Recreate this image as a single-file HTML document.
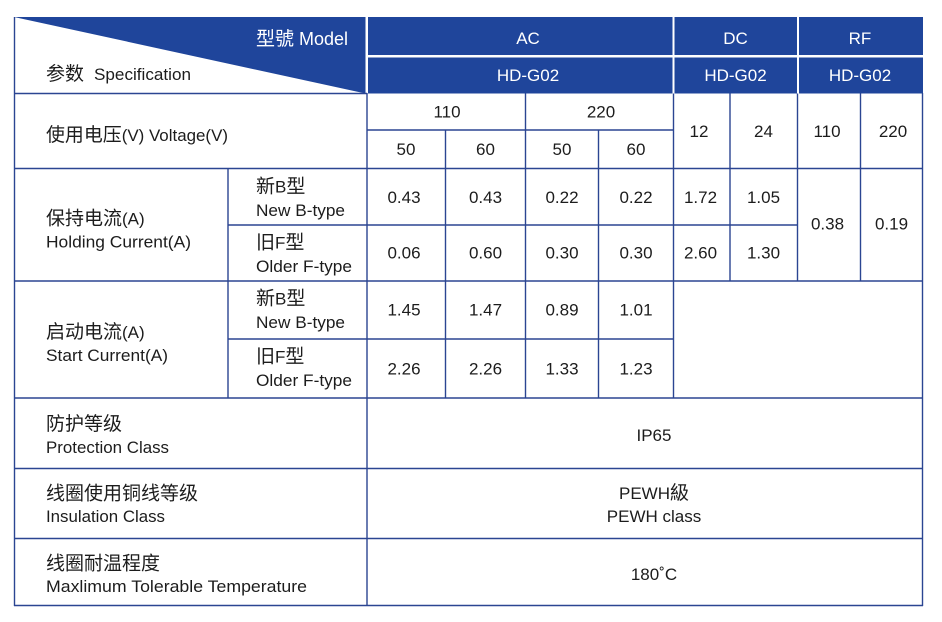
<!DOCTYPE html>
<html>
<head>
<meta charset="utf-8">
<style>
  html,body{margin:0;padding:0;background:#fff;}
  svg{display:block;}
  text{font-family:"Liberation Sans","Noto Sans CJK SC",sans-serif;font-size:17px;fill:#1c1c1c;}
  .c{font-family:"Noto Sans CJK SC","Liberation Sans",sans-serif;font-size:19px;}
  .w{fill:#ffffff;}
  .m{text-anchor:middle;}
</style>
</head>
<body>
<svg width="942" height="622" viewBox="0 0 942 622" xmlns="http://www.w3.org/2000/svg">
  <rect x="0" y="0" width="942" height="622" fill="#ffffff"/>

  <!-- header blue -->
  <polygon points="14,17 365.5,17 365.5,93.5" fill="#1f459b"/>
  <rect x="368" y="17" width="304.5" height="38" fill="#1f459b"/>
  <rect x="368" y="57.5" width="304.5" height="36" fill="#1f459b"/>
  <rect x="674.5" y="17" width="122.5" height="38" fill="#1f459b"/>
  <rect x="674.5" y="57.5" width="122.5" height="36" fill="#1f459b"/>
  <rect x="799" y="17" width="124" height="38" fill="#1f459b"/>
  <rect x="799" y="57.5" width="124" height="36" fill="#1f459b"/>

  <!-- grid lines -->
  <g stroke="#2b4592" stroke-width="1.4" fill="none">
    <!-- outer verticals -->
    <line x1="14.5" y1="17" x2="14.5" y2="606"/>
    <line x1="922.5" y1="93" x2="922.5" y2="606"/>
    <line x1="367" y1="93" x2="367" y2="606"/>
    <!-- header bottom of left cell -->
    <line x1="14" y1="93.5" x2="367" y2="93.5"/>
    <!-- horizontals -->
    <line x1="367" y1="130" x2="673.5" y2="130"/>
    <line x1="14" y1="168.5" x2="923" y2="168.5"/>
    <line x1="228" y1="225" x2="797.5" y2="225"/>
    <line x1="14" y1="281" x2="923" y2="281"/>
    <line x1="228" y1="339" x2="673.5" y2="339"/>
    <line x1="14" y1="398" x2="923" y2="398"/>
    <line x1="14" y1="468.5" x2="923" y2="468.5"/>
    <line x1="14" y1="538.5" x2="923" y2="538.5"/>
    <line x1="14" y1="605.5" x2="923" y2="605.5"/>
    <!-- inner verticals -->
    <line x1="228" y1="168.5" x2="228" y2="398"/>
    <line x1="445.5" y1="130" x2="445.5" y2="398"/>
    <line x1="525.5" y1="93.5" x2="525.5" y2="398"/>
    <line x1="598.5" y1="130" x2="598.5" y2="398"/>
    <line x1="673.5" y1="93.5" x2="673.5" y2="398"/>
    <line x1="730" y1="93.5" x2="730" y2="281"/>
    <line x1="797.5" y1="93.5" x2="797.5" y2="281"/>
    <line x1="860.5" y1="93.5" x2="860.5" y2="281"/>
  </g>

  <!-- header texts -->
  <text x="256" y="45" class="w" style="font-size:18px"><tspan class="c">型號</tspan> Model</text>
  <text x="46" y="80"><tspan class="c">参数</tspan></text>
  <text x="94" y="80" textLength="97" lengthAdjust="spacingAndGlyphs">Specification</text>

  <text x="528" y="44" class="w m">AC</text>
  <text x="528" y="81" class="w m">HD-G02</text>
  <text x="735.5" y="44" class="w m">DC</text>
  <text x="735.5" y="81" class="w m">HD-G02</text>
  <text x="860" y="44" class="w m">RF</text>
  <text x="860" y="81" class="w m">HD-G02</text>

  <!-- voltage row -->
  <text x="46" y="141" textLength="182" lengthAdjust="spacingAndGlyphs"><tspan class="c">使用电压</tspan>(V) Voltage(V)</text>
  <text x="447" y="117.5" class="m">110</text>
  <text x="601" y="117.5" class="m">220</text>
  <text x="406" y="155" class="m">50</text>
  <text x="485.5" y="155" class="m">60</text>
  <text x="562" y="155" class="m">50</text>
  <text x="636" y="155" class="m">60</text>
  <text x="699" y="137" class="m">12</text>
  <text x="763.5" y="137" class="m">24</text>
  <text x="827" y="137" class="m">110</text>
  <text x="893" y="137" class="m">220</text>

  <!-- holding current -->
  <text x="46" y="224.5"><tspan class="c">保持电流</tspan>(A)</text>
  <text x="46" y="247.5" textLength="145" lengthAdjust="spacingAndGlyphs">Holding Current(A)</text>
  <text x="256" y="192.5"><tspan class="c">新</tspan>B<tspan class="c">型</tspan></text>
  <text x="256" y="216" textLength="89" lengthAdjust="spacingAndGlyphs">New B-type</text>
  <text x="256" y="248.5"><tspan class="c">旧</tspan>F<tspan class="c">型</tspan></text>
  <text x="256" y="272" textLength="96" lengthAdjust="spacingAndGlyphs">Older F-type</text>

  <text x="404" y="203" class="m">0.43</text>
  <text x="485.5" y="203" class="m">0.43</text>
  <text x="562" y="203" class="m">0.22</text>
  <text x="636" y="203" class="m">0.22</text>
  <text x="700.5" y="203" class="m">1.72</text>
  <text x="763.5" y="203" class="m">1.05</text>
  <text x="404" y="258.5" class="m">0.06</text>
  <text x="485.5" y="258.5" class="m">0.60</text>
  <text x="562" y="258.5" class="m">0.30</text>
  <text x="636" y="258.5" class="m">0.30</text>
  <text x="700.5" y="258.5" class="m">2.60</text>
  <text x="763.5" y="258.5" class="m">1.30</text>
  <text x="827.5" y="229.5" class="m">0.38</text>
  <text x="891.5" y="229.5" class="m">0.19</text>

  <!-- start current -->
  <text x="46" y="338"><tspan class="c">启动电流</tspan>(A)</text>
  <text x="46" y="361" textLength="122" lengthAdjust="spacingAndGlyphs">Start Current(A)</text>
  <text x="256" y="304.5"><tspan class="c">新</tspan>B<tspan class="c">型</tspan></text>
  <text x="256" y="328" textLength="89" lengthAdjust="spacingAndGlyphs">New B-type</text>
  <text x="256" y="362.5"><tspan class="c">旧</tspan>F<tspan class="c">型</tspan></text>
  <text x="256" y="386" textLength="96" lengthAdjust="spacingAndGlyphs">Older F-type</text>

  <text x="404" y="315.5" class="m">1.45</text>
  <text x="485.5" y="315.5" class="m">1.47</text>
  <text x="562" y="315.5" class="m">0.89</text>
  <text x="636" y="315.5" class="m">1.01</text>
  <text x="404" y="374.5" class="m">2.26</text>
  <text x="485.5" y="374.5" class="m">2.26</text>
  <text x="562" y="374.5" class="m">1.33</text>
  <text x="636" y="374.5" class="m">1.23</text>

  <!-- protection -->
  <text x="46" y="430"><tspan class="c">防护等级</tspan></text>
  <text x="46" y="453" textLength="123" lengthAdjust="spacingAndGlyphs">Protection Class</text>
  <text x="654" y="441" class="m">IP65</text>

  <!-- insulation -->
  <text x="46" y="499.5"><tspan class="c">线圈使用铜线等级</tspan></text>
  <text x="46" y="522" textLength="119" lengthAdjust="spacingAndGlyphs">Insulation Class</text>
  <text x="654" y="499" class="m">PEWH<tspan class="c">級</tspan></text>
  <text x="654" y="522" class="m">PEWH class</text>

  <!-- temperature -->
  <text x="46" y="569.5"><tspan class="c">线圈耐温程度</tspan></text>
  <text x="46" y="592" textLength="261" lengthAdjust="spacingAndGlyphs">Maxlimum Tolerable Temperature</text>
  <text x="654" y="580" class="m">180˚C</text>
</svg>
</body>
</html>
